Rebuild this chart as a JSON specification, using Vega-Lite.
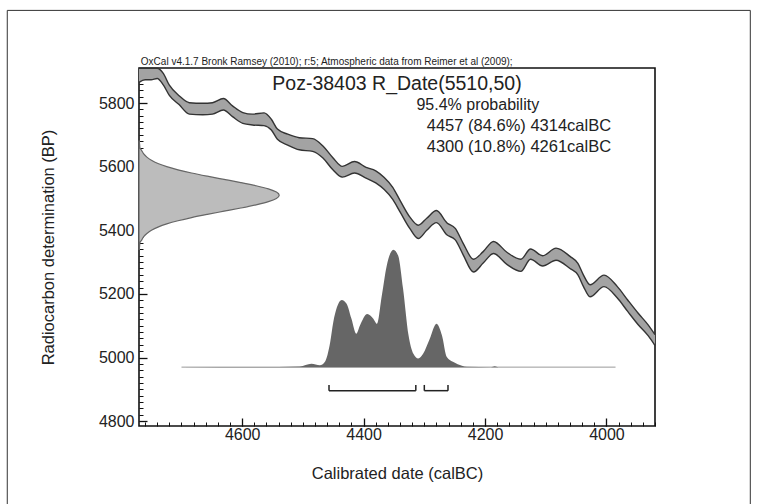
{
  "$schema": "https://vega.github.io/schema/vega-lite/v6.json",
  "width": 516,
  "height": 358,
  "autosize": {"type": "none"},
  "padding": {"left": 139, "top": 68, "right": 103, "bottom": 78},
  "background": "white",
  "config": {
    "view": {"stroke": "#111", "strokeWidth": 1.6},
    "font": "Liberation Sans",
    "axis": {"labelFont": "Liberation Sans", "titleFont": "Liberation Sans", "grid": false, "domain": false}
  },
  "datasets": {
    "curve": [
      {"year": 4770, "lo": 5865, "hi": 5909},
      {"year": 4760, "lo": 5873, "hi": 5909},
      {"year": 4750, "lo": 5873, "hi": 5909},
      {"year": 4740, "lo": 5877, "hi": 5909},
      {"year": 4730, "lo": 5857, "hi": 5893},
      {"year": 4720, "lo": 5824, "hi": 5856},
      {"year": 4704, "lo": 5795, "hi": 5823},
      {"year": 4687, "lo": 5765, "hi": 5801},
      {"year": 4665, "lo": 5763, "hi": 5799},
      {"year": 4649, "lo": 5765, "hi": 5801},
      {"year": 4631, "lo": 5778, "hi": 5814},
      {"year": 4616, "lo": 5757, "hi": 5791},
      {"year": 4599, "lo": 5736, "hi": 5770},
      {"year": 4583, "lo": 5731, "hi": 5765},
      {"year": 4564, "lo": 5729, "hi": 5769},
      {"year": 4552, "lo": 5715, "hi": 5749},
      {"year": 4542, "lo": 5686, "hi": 5718},
      {"year": 4525, "lo": 5668, "hi": 5702},
      {"year": 4506, "lo": 5653, "hi": 5691},
      {"year": 4484, "lo": 5648, "hi": 5688},
      {"year": 4467, "lo": 5627, "hi": 5665},
      {"year": 4451, "lo": 5591, "hi": 5629},
      {"year": 4435, "lo": 5567, "hi": 5601},
      {"year": 4415, "lo": 5580, "hi": 5616},
      {"year": 4396, "lo": 5564, "hi": 5598},
      {"year": 4380, "lo": 5549, "hi": 5587},
      {"year": 4366, "lo": 5528, "hi": 5566},
      {"year": 4352, "lo": 5497, "hi": 5535},
      {"year": 4340, "lo": 5458, "hi": 5494},
      {"year": 4324, "lo": 5406, "hi": 5442},
      {"year": 4310, "lo": 5374, "hi": 5416},
      {"year": 4296, "lo": 5400, "hi": 5438},
      {"year": 4280, "lo": 5424, "hi": 5462},
      {"year": 4263, "lo": 5386, "hi": 5424},
      {"year": 4249, "lo": 5370, "hi": 5406},
      {"year": 4236, "lo": 5323, "hi": 5359},
      {"year": 4219, "lo": 5269, "hi": 5309},
      {"year": 4203, "lo": 5297, "hi": 5333},
      {"year": 4186, "lo": 5327, "hi": 5365},
      {"year": 4164, "lo": 5293, "hi": 5331},
      {"year": 4141, "lo": 5271, "hi": 5309},
      {"year": 4125, "lo": 5309, "hi": 5341},
      {"year": 4105, "lo": 5288, "hi": 5320},
      {"year": 4083, "lo": 5306, "hi": 5344},
      {"year": 4060, "lo": 5280, "hi": 5318},
      {"year": 4047, "lo": 5260, "hi": 5296},
      {"year": 4038, "lo": 5224, "hi": 5260},
      {"year": 4027, "lo": 5191, "hi": 5229},
      {"year": 4004, "lo": 5223, "hi": 5259},
      {"year": 3982, "lo": 5187, "hi": 5223},
      {"year": 3965, "lo": 5145, "hi": 5181},
      {"year": 3948, "lo": 5104, "hi": 5140},
      {"year": 3931, "lo": 5068, "hi": 5102},
      {"year": 3920, "lo": 5038, "hi": 5072}
    ],
    "gauss": [
      {"bp": 5340, "gx": 4769.6},
      {"bp": 5350, "gx": 4769.0},
      {"bp": 5360, "gx": 4768.6},
      {"bp": 5370, "gx": 4765.4},
      {"bp": 5380, "gx": 4762.2},
      {"bp": 5390, "gx": 4757.0},
      {"bp": 5400, "gx": 4749.5},
      {"bp": 5410, "gx": 4738.8},
      {"bp": 5420, "gx": 4724.3},
      {"bp": 5430, "gx": 4705.8},
      {"bp": 5440, "gx": 4683.4},
      {"bp": 5450, "gx": 4657.5},
      {"bp": 5460, "gx": 4629.9},
      {"bp": 5470, "gx": 4602.3},
      {"bp": 5480, "gx": 4577.1},
      {"bp": 5490, "gx": 4556.8},
      {"bp": 5500, "gx": 4543.6},
      {"bp": 5510, "gx": 4539.0},
      {"bp": 5520, "gx": 4543.6},
      {"bp": 5530, "gx": 4556.8},
      {"bp": 5540, "gx": 4577.1},
      {"bp": 5550, "gx": 4602.3},
      {"bp": 5560, "gx": 4629.9},
      {"bp": 5570, "gx": 4657.5},
      {"bp": 5580, "gx": 4683.4},
      {"bp": 5590, "gx": 4705.8},
      {"bp": 5600, "gx": 4724.3},
      {"bp": 5610, "gx": 4738.8},
      {"bp": 5620, "gx": 4749.5},
      {"bp": 5630, "gx": 4757.0},
      {"bp": 5640, "gx": 4762.2},
      {"bp": 5650, "gx": 4765.4},
      {"bp": 5660, "gx": 4768.6},
      {"bp": 5670, "gx": 4769.0},
      {"bp": 5680, "gx": 4769.6}
    ],
    "post": [
      {"year": 4700, "top": 4970},
      {"year": 4540, "top": 4970.5},
      {"year": 4505, "top": 4972},
      {"year": 4486, "top": 4981},
      {"year": 4472, "top": 4976},
      {"year": 4464, "top": 4986},
      {"year": 4455, "top": 5049},
      {"year": 4450, "top": 5111},
      {"year": 4444, "top": 5158},
      {"year": 4436, "top": 5181},
      {"year": 4428, "top": 5169},
      {"year": 4420, "top": 5122},
      {"year": 4412, "top": 5075},
      {"year": 4406, "top": 5101},
      {"year": 4394, "top": 5137},
      {"year": 4384, "top": 5122},
      {"year": 4378, "top": 5106},
      {"year": 4370, "top": 5195},
      {"year": 4362, "top": 5288},
      {"year": 4351, "top": 5339},
      {"year": 4343, "top": 5320},
      {"year": 4335, "top": 5216},
      {"year": 4326, "top": 5070},
      {"year": 4318, "top": 5012},
      {"year": 4310, "top": 4997},
      {"year": 4302, "top": 5012},
      {"year": 4291, "top": 5059},
      {"year": 4280, "top": 5106},
      {"year": 4271, "top": 5070},
      {"year": 4263, "top": 5002},
      {"year": 4252, "top": 4986},
      {"year": 4238, "top": 4974},
      {"year": 4230, "top": 4971},
      {"year": 4190, "top": 4970},
      {"year": 4184, "top": 4973},
      {"year": 4178, "top": 4970},
      {"year": 3985, "top": 4970}
    ],
    "ranges": [
      {"from": 4457, "to": 4314},
      {"from": 4300, "to": 4261}
    ]
  },
  "resolve": {"axis": {"x": "independent", "y": "independent"}},
  "layer": [
    {
      "data": {"name": "curve"},
      "mark": {"type": "area", "fill": "#a3a3a3", "interpolate": "monotone"},
      "encoding": {
        "x": {
          "field": "year", "type": "quantitative",
          "scale": {"domain": [3920, 4770], "reverse": true, "nice": false, "zero": false},
          "axis": {
            "orient": "bottom", "values": [4600, 4400, 4200, 4000], "format": "d",
            "ticks": false, "labelFontSize": 16, "labelColor": "#222", "labelPadding": 0,
            "title": "Calibrated date (calBC)", "titleFontSize": 16.5, "titleFontWeight": "normal",
            "titleColor": "#222", "titleY": 52, "titleBaseline": "alphabetic"
          }
        },
        "y": {
          "field": "hi", "type": "quantitative",
          "scale": {"domain": [4785, 5910], "nice": false, "zero": false},
          "axis": {
            "orient": "left", "values": [4800, 5000, 5200, 5400, 5600, 5800], "format": "d",
            "ticks": false, "labelFontSize": 16, "labelColor": "#222", "labelPadding": 5,
            "title": "Radiocarbon determination (BP)", "titleFontSize": 16.5, "titleFontWeight": "normal",
            "titleColor": "#222", "titleX": -91, "titleY": 179, "titleAngle": -90, "titleBaseline": "middle", "titleAlign": "center"
          }
        },
        "y2": {"field": "lo"}
      }
    },
    {
      "data": {"name": "curve"},
      "mark": {"type": "line", "stroke": "#333", "strokeWidth": 1.4, "interpolate": "monotone"},
      "encoding": {
        "x": {
          "field": "year", "type": "quantitative",
          "axis": {
            "orient": "bottom", "values": [4600, 4400, 4200, 4000], "labels": false, "ticks": true,
            "offset": -8, "tickSize": 8, "tickColor": "#111", "tickWidth": 1.3, "title": null
          }
        },
        "y": {
          "field": "hi", "type": "quantitative",
          "axis": {
            "orient": "left", "values": [4800, 5000, 5200, 5400, 5600, 5800], "labels": false, "ticks": true,
            "offset": -8, "tickSize": 8, "tickColor": "#111", "tickWidth": 1.3, "title": null
          }
        }
      }
    },
    {
      "data": {"name": "curve"},
      "mark": {"type": "line", "stroke": "#333", "strokeWidth": 1.4, "interpolate": "monotone"},
      "encoding": {
        "x": {
          "field": "year", "type": "quantitative",
          "axis": {
            "orient": "bottom",
            "values": [3920, 3940, 3960, 3980, 4000, 4020, 4040, 4060, 4080, 4100, 4120, 4140, 4160, 4180, 4200, 4220, 4240, 4260, 4280, 4300, 4320, 4340, 4360, 4380, 4400, 4420, 4440, 4460, 4480, 4500, 4520, 4540, 4560, 4580, 4600, 4620, 4640, 4660, 4680, 4700, 4720, 4740, 4760],
            "labels": false, "ticks": true, "offset": -4, "tickSize": 4, "tickColor": "#111", "tickWidth": 1, "title": null
          }
        },
        "y": {
          "field": "lo", "type": "quantitative",
          "axis": {
            "orient": "left",
            "values": [4800, 4820, 4840, 4860, 4880, 4900, 4920, 4940, 4960, 4980, 5000, 5020, 5040, 5060, 5080, 5100, 5120, 5140, 5160, 5180, 5200, 5220, 5240, 5260, 5280, 5300, 5320, 5340, 5360, 5380, 5400, 5420, 5440, 5460, 5480, 5500, 5520, 5540, 5560, 5580, 5600, 5620, 5640, 5660, 5680, 5700, 5720, 5740, 5760, 5780, 5800, 5820, 5840, 5860, 5880, 5900],
            "labels": false, "ticks": true, "offset": -4, "tickSize": 4, "tickColor": "#111", "tickWidth": 1, "title": null
          }
        }
      }
    },
    {
      "data": {"name": "gauss"},
      "mark": {"type": "area", "orient": "horizontal", "fill": "#bcbcbc", "stroke": "#666", "strokeWidth": 1.2, "interpolate": "monotone"},
      "encoding": {
        "y": {"field": "bp", "type": "quantitative", "axis": null},
        "x": {"field": "gx", "type": "quantitative", "axis": null},
        "x2": {"datum": 4770}
      }
    },
    {
      "data": {"values": [{"a": 4700, "b": 3985}]},
      "mark": {"type": "rule", "stroke": "#9a9a9a", "strokeWidth": 1},
      "encoding": {
        "x": {"field": "a", "type": "quantitative", "axis": null},
        "x2": {"field": "b"},
        "y": {"datum": 4970, "axis": null}
      }
    },
    {
      "data": {"name": "post"},
      "mark": {"type": "area", "fill": "#666666", "interpolate": "monotone"},
      "encoding": {
        "x": {"field": "year", "type": "quantitative", "axis": null},
        "y": {"field": "top", "type": "quantitative", "axis": null},
        "y2": {"datum": 4970}
      }
    },
    {
      "data": {"name": "ranges"},
      "mark": {"type": "rule", "stroke": "#222", "strokeWidth": 1.5},
      "encoding": {
        "x": {"field": "from", "type": "quantitative", "axis": null},
        "x2": {"field": "to"},
        "y": {"datum": 4896, "axis": null}
      }
    },
    {
      "data": {"name": "ranges"},
      "mark": {"type": "rule", "stroke": "#222", "strokeWidth": 1.5},
      "encoding": {
        "x": {"field": "from", "type": "quantitative", "axis": null},
        "y": {"datum": 4896, "axis": null},
        "y2": {"datum": 4914}
      }
    },
    {
      "data": {"name": "ranges"},
      "mark": {"type": "rule", "stroke": "#222", "strokeWidth": 1.5},
      "encoding": {
        "x": {"field": "to", "type": "quantitative", "axis": null},
        "y": {"datum": 4896, "axis": null},
        "y2": {"datum": 4914}
      }
    },
    {
      "data": {"values": [{"t": "OxCal v4.1.7 Bronk Ramsey (2010); r:5; Atmospheric data from Reimer et al (2009);"}]},
      "mark": {"type": "text", "align": "left", "baseline": "alphabetic", "fontSize": 10, "fill": "#222", "font": "Liberation Sans"},
      "encoding": {
        "text": {"field": "t"},
        "x": {"datum": 4767, "axis": null},
        "y": {"datum": 5918, "axis": null}
      }
    },
    {
      "data": {"values": [{"t": "Poz-38403 R_Date(5510,50)"}]},
      "mark": {"type": "text", "align": "center", "baseline": "middle", "fontSize": 19.5, "fill": "#222", "font": "Liberation Sans"},
      "encoding": {
        "text": {"field": "t"},
        "x": {"datum": 4345, "axis": null},
        "y": {"datum": 5860, "axis": null}
      }
    },
    {
      "data": {"values": [{"t": "95.4% probability"}]},
      "mark": {"type": "text", "align": "left", "baseline": "middle", "fontSize": 16, "fill": "#222", "font": "Liberation Sans"},
      "encoding": {
        "text": {"field": "t"},
        "x": {"datum": 4313, "axis": null},
        "y": {"datum": 5793, "axis": null}
      }
    },
    {
      "data": {"values": [{"t": "4457 (84.6%) 4314calBC"}]},
      "mark": {"type": "text", "align": "left", "baseline": "middle", "fontSize": 16.5, "fill": "#222", "font": "Liberation Sans"},
      "encoding": {
        "text": {"field": "t"},
        "x": {"datum": 4296, "axis": null},
        "y": {"datum": 5727, "axis": null}
      }
    },
    {
      "data": {"values": [{"t": "4300 (10.8%) 4261calBC"}]},
      "mark": {"type": "text", "align": "left", "baseline": "middle", "fontSize": 16.5, "fill": "#222", "font": "Liberation Sans"},
      "encoding": {
        "text": {"field": "t"},
        "x": {"datum": 4296, "axis": null},
        "y": {"datum": 5662, "axis": null}
      }
    },
    {
      "data": {"values": [{"k": "frame"}]},
      "mark": {"type": "rect", "fill": null, "stroke": "#333", "strokeWidth": 1, "clip": false},
      "encoding": {
        "x": {"datum": 4987, "axis": null},
        "x2": {"datum": 3763},
        "y": {"datum": 6091, "axis": null},
        "y2": {"datum": 4500}
      }
    }
  ]
}
